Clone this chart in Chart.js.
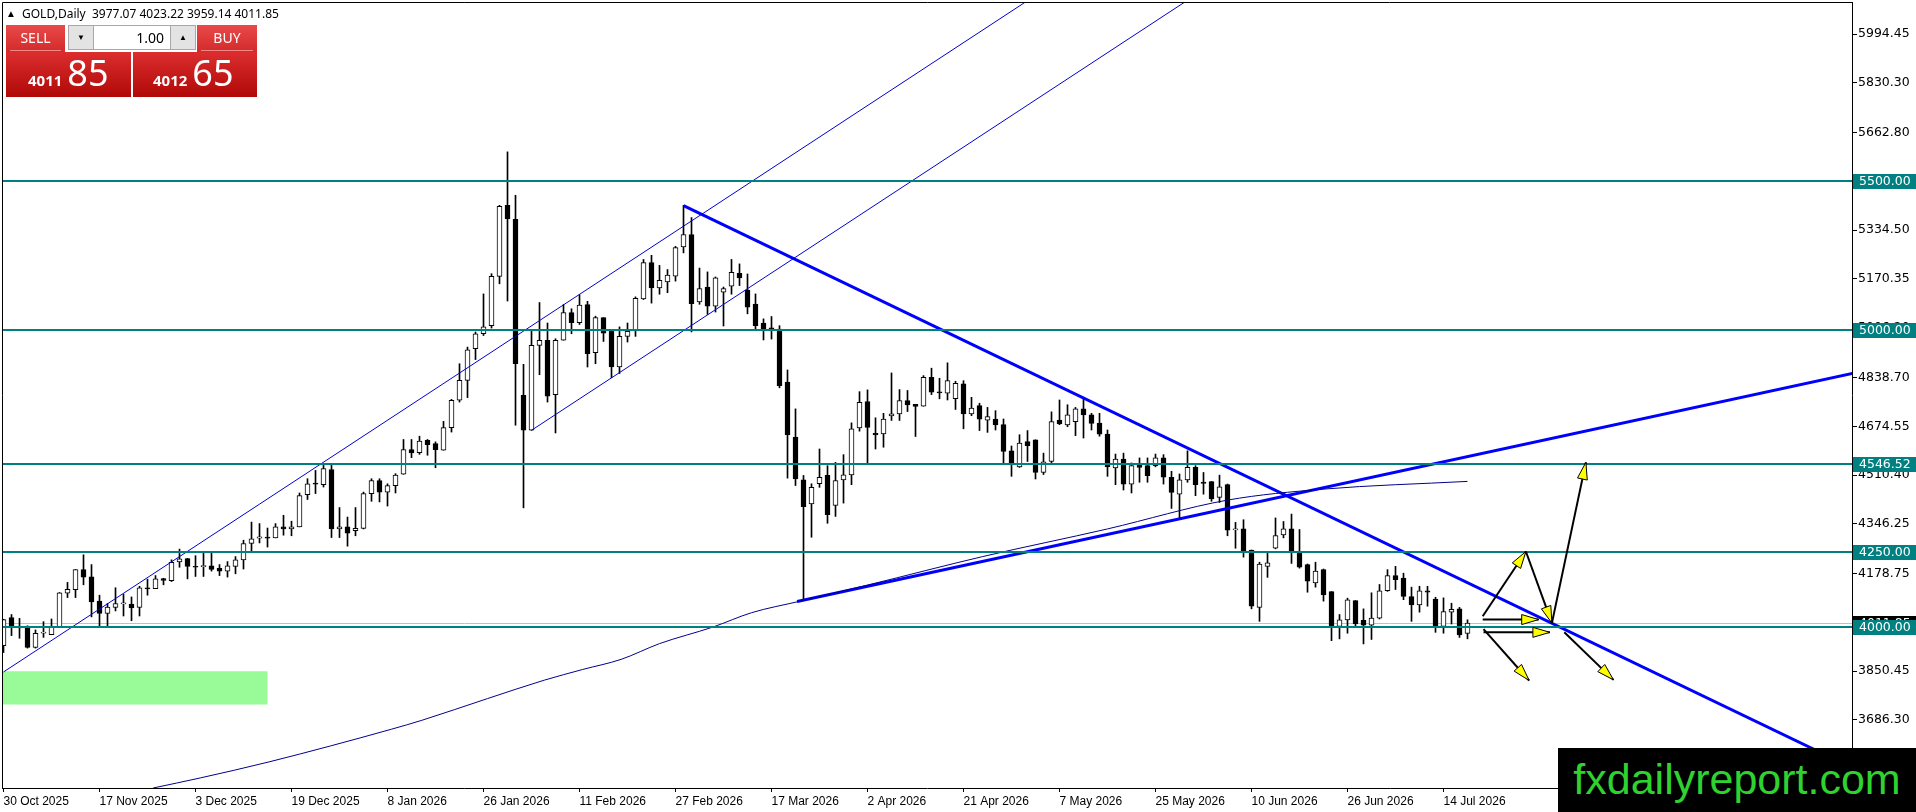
<!DOCTYPE html>
<html lang="en">
<head>
<meta charset="UTF-8">
<title>GOLD,Daily</title>
<script src="https://cdn.jsdelivr.net/npm/chart.js@4.4.1/dist/chart.umd.min.js"></script>
<style>
  body { margin: 0; background: #fff; overflow: hidden; }
  #wrap { position: relative; width: 1916px; height: 812px; }
  #chart { position: absolute; left: 0; top: 0; }
  #hdr { position: absolute; left: 6px; top: 5px; font: 12px 'Noto Sans'; line-height: 16px; color: #000; white-space: pre; }
  #hdr .tri { display: inline-block; width: 16px; font-size: 10px; vertical-align: 1px; }
  .red { position: absolute; }
  .top { top: 25px; height: 27px; background: linear-gradient(#e84a4a, #d42a2a); color: #fff; font: 14px 'Noto Sans'; text-align: center; line-height: 25px; }
  .top .sep { position: absolute; left: 4px; right: 4px; bottom: 1px; height: 1px; background: #f08a8a; }
  #sell { left: 6px; width: 59px; }
  #buy { left: 197px; width: 60px; }
  .big { top: 52px; height: 45px; background: linear-gradient(#dc2e2e, #b00808); color: #fff; }
  #bl { left: 6px; width: 125px; }
  #br { left: 133px; width: 124px; }
  .px { position: absolute; top: 3px; display: flex; align-items: baseline; line-height: 36px; font-family: 'Noto Sans'; }
  .px b { font-size: 15px; margin-right: 5px; }
  .px span { font-size: 36px; }
  #lot { position: absolute; left: 68px; top: 25px; width: 126px; height: 23px; border: 1px solid #a8a8a8; background: #fff; display: flex; }
  #lot .btn { width: 24px; background: #e3e3e3; font-size: 8px; text-align: center; line-height: 23px; color: #000; }
  #lot .val { flex: 1; text-align: right; padding-right: 6px; font: 14px 'Noto Sans'; line-height: 23px; border-left: 1px solid #a8a8a8; border-right: 1px solid #a8a8a8; }
  #wm { position: absolute; left: 1558px; top: 748px; width: 358px; height: 64px; background: #000; color: #2fd22f; font: 43px 'Liberation Sans'; text-align: center; line-height: 62px; }
</style>
</head>
<body>
<div id="wrap">
  <canvas id="chart" width="1916" height="812"></canvas>
  <div id="hdr"></div>
  <div class="red top" id="sell">SELL<div class="sep"></div></div>
  <div id="lot"><div class="btn">&#9660;</div><div class="val">1.00</div><div class="btn">&#9650;</div></div>
  <div class="red top" id="buy">BUY<div class="sep"></div></div>
  <div class="red big" id="bl"><div class="px" style="left:22px"><b>4011</b><span>85</span></div></div>
  <div class="red big" id="br"><div class="px" style="left:20px"><b>4012</b><span>65</span></div></div>
  <div id="wm">fxdailyreport.com</div>
</div>
<script>
// daily candles, bar 0 = 30 Oct 2025 ... bar 183 = last bar
const opens = [3936,4031,4001,3997,3930,3978,3973,4000,4113,4125,
  4192,4168,4086,4045,4065,4077,4076,4065,4131,4128,
  4162,4155,4218,4229,4201,4202,4205,4196,4187,4203,
  4225,4280,4298,4301,4299,4336,4329,4336,4444,4483,
  4478,4529,4329,4336,4323,4331,4448,4492,4453,4475,
  4513,4596,4586,4627,4616,4594,4670,4762,4829,4936,
  4986,5013,5179,5418,5371,4779,4661,4947,4964,4781,
  4964,5057,5023,5084,4922,5040,4994,4874,4977,4997,
  5103,5225,5140,5160,5180,5278,5320,5093,5143,5079,
  5126,5146,5189,5133,5086,5022,5006,5002,4823,4638,
  4494,4413,4481,4509,4408,4494,4511,4669,4758,4651,
  4649,4709,4716,4761,4748,4742,4839,4788,4786,4767,
  4817,4716,4744,4695,4699,4680,4592,4538,4623,4629,
  4519,4556,4695,4679,4690,4733,4713,4685,4648,4534,
  4564,4480,4543,4542,4542,4568,4503,4446,4494,4536,
  4487,4488,4435,4478,4326,4329,4258,4065,4203,4264,
  4309,4329,4254,4209,4147,4192,4118,4001,4023,4088,
  4021,4005,4029,4121,4172,4164,4101,4073,4121,4093,
  4001,4049,4060,3977.07];
const highs = [4025,4041,4028,4003,3989,4017,4026,4115,4149,4192,
  4242,4209,4106,4078,4131,4109,4100,4136,4160,4172,
  4163,4225,4261,4230,4239,4253,4253,4209,4219,4236,
  4291,4352,4347,4332,4347,4375,4355,4450,4498,4526,
  4549,4543,4401,4369,4401,4453,4498,4498,4481,4515,
  4630,4630,4641,4630,4622,4691,4765,4885,4941,4992,
  5120,5188,5418,5598,5452,4883,4995,5091,5022,4969,
  5084,5070,5117,5095,5045,5040,4997,5009,5022,5110,
  5236,5250,5216,5202,5280,5418,5377,5207,5194,5177,
  5143,5236,5221,5187,5120,5036,5044,5013,4864,4733,
  4509,4481,4598,4542,4553,4579,4686,4791,4797,4703,
  4718,4854,4798,4795,4748,4845,4870,4836,4888,4826,
  4828,4772,4752,4738,4727,4699,4608,4646,4660,4629,
  4584,4723,4763,4747,4738,4766,4718,4718,4662,4581,
  4584,4551,4568,4568,4581,4579,4523,4514,4592,4542,
  4519,4489,4510,4480,4351,4360,4258,4217,4247,4366,
  4354,4379,4327,4211,4217,4194,4118,4041,4096,4088,
  4060,4114,4142,4192,4203,4180,4133,4136,4136,4099,
  4097,4079,4065,4023.22];
const lows = [3913,3970,3961,3928,3928,3964,3973,3999,4098,4098,
  4141,4033,4002,4002,4053,4036,4020,4036,4106,4128,
  4141,4152,4200,4161,4169,4169,4187,4172,4167,4178,
  4194,4255,4282,4268,4299,4308,4306,4336,4428,4448,
  4470,4300,4300,4271,4306,4329,4422,4420,4406,4450,
  4513,4569,4580,4577,4535,4594,4655,4756,4771,4899,
  4980,5005,5154,5096,4678,4400,4661,4848,4756,4652,
  4964,4986,5017,4874,4885,4960,4838,4852,4958,4977,
  5101,5089,5119,5124,5163,5258,4992,5085,5051,5059,
  5012,5119,5148,5053,5002,4965,4968,4804,4500,4475,
  4094,4301,4469,4348,4371,4416,4478,4658,4548,4598,
  4604,4694,4694,4724,4640,4742,4781,4767,4763,4731,
  4666,4710,4660,4654,4662,4550,4506,4536,4556,4497,
  4512,4551,4680,4673,4643,4635,4662,4641,4506,4478,
  4460,4450,4486,4486,4538,4480,4398,4362,4486,4441,
  4446,4422,4418,4306,4264,4234,4060,4018,4166,4262,
  4299,4213,4197,4116,4133,4086,3953,3959,3978,3998,
  3942,3957,4026,4119,4125,4091,4018,4049,4069,3981,
  3978,4009,3964,3959.14];
const closes = [4024,4003,3996,3930,3978,3982,3998,4114,4126,4192,
  4167,4083,4045,4066,4078,4078,4063,4131,4127,4161,
  4156,4217,4228,4203,4200,4204,4193,4187,4205,4225,
  4280,4296,4302,4298,4336,4329,4336,4441,4481,4480,
  4532,4329,4336,4315,4331,4448,4492,4453,4475,4510,
  4596,4585,4625,4613,4596,4670,4762,4829,4932,4986,
  5009,5179,5415,5372,4885,4661,4947,4964,4776,4964,
  5057,5023,5082,4919,5040,4988,4874,4977,4994,5105,
  5225,5140,5166,5183,5276,5320,5087,5138,5079,5174,
  5138,5193,5174,5075,5013,5002,5000,4811,4645,4497,
  4404,4469,4503,4377,4492,4511,4666,4755,4671,4645,
  4699,4716,4761,4746,4741,4839,4789,4787,4828,4819,
  4716,4736,4698,4707,4679,4590,4550,4618,4609,4519,
  4555,4690,4682,4713,4733,4713,4684,4648,4538,4564,
  4480,4542,4536,4508,4568,4503,4452,4494,4536,4478,
  4482,4430,4471,4325,4329,4256,4069,4211,4215,4307,
  4329,4254,4200,4153,4187,4107,4001,4023,4090,4009,
  4005,4029,4121,4172,4158,4102,4073,4121,4116,4001,
  4051,4058,3972,4011.85];

// moving average, read as [bar, price]
const maPoints = [[18.7,3457],[24.6,3491],[33.2,3545],[48.5,3655],[52.3,3685],[60.5,3758],
  [67.6,3820],[72.4,3856],[77.2,3890],[82,3943],[88.7,3999],[93.5,4047],[99.6,4086],
  [108,4140],[122.4,4236],[138,4329],[153,4426],[165,4463],[183,4489]];

// hand drawn objects, [bar, price]
const channelUpper = [[0,3847.6],[140,6318.6]];
const channelLower = [[66,4661],[150,6143.6]];
const downTrend = [[85,5417],[235,3474.5]];
const upTrend = [[99.2,4085],[235,4875]];
const levels = [5500, 5000, 4546.52, 4250, 4000];
const greenZone = [-1, 33, 3738, 3850];   // bar from, bar to, price low, price high
const arrowSegs = [[184.9,4035,190.3,4253],[190.3,4253,193.55,4012],[193.55,4012,197.8,4553],
  [184.9,4024,191.9,4024],[185,3981,193.3,3981],[185,3992,190.7,3819],[195.1,3981,201.25,3821]];

const xTickBars = [0,12,24,36,48,60,72,84,96,108,120,132,144,156,168,180];
const xTickLabels = ['30 Oct 2025','17 Nov 2025','3 Dec 2025','19 Dec 2025','8 Jan 2026','26 Jan 2026',
  '11 Feb 2026','27 Feb 2026','17 Mar 2026','2 Apr 2026','21 Apr 2026','7 May 2026','25 May 2026',
  '10 Jun 2026','26 Jun 2026','14 Jul 2026'];
const yTicks = [5994.45,5830.30,5662.80,5498.65,5334.50,5170.35,5006.20,4838.70,4674.55,4510.40,
  4346.25,4178.75,4014.60,3850.45,3686.30];

const last = closes.length - 1;
const lastPrice = closes[last];
document.getElementById('hdr').innerHTML = '<span class="tri">&#9650;</span>GOLD,Daily  ' +
  [opens[last], highs[last], lows[last], closes[last]].map(v => v.toFixed(2)).join(' ');

const pts = a => a.map(p => ({x: p[0], y: p[1]}));
const wickData = highs.map((h, i) => ({x: i, y: [lows[i], h]}));
const bodyData = opens.map((o, i) => ({x: i, y: [o, closes[i]]}));
const bodyColors = opens.map((o, i) => closes[i] >= o ? '#ffffff' : '#000000');

const axisFont = '12.5px "DejaVu Sans"';

function drawArrow(ctx, x1, y1, x2, y2) {
  ctx.strokeStyle = '#000';
  ctx.lineWidth = 2;
  ctx.beginPath(); ctx.moveTo(x1, y1); ctx.lineTo(x2, y2); ctx.stroke();
  const a = Math.atan2(y2 - y1, x2 - x1), L = 17, W = 5;
  const bx = x2 - L * Math.cos(a), by = y2 - L * Math.sin(a);
  ctx.beginPath();
  ctx.moveTo(x2, y2);
  ctx.lineTo(bx - W * Math.sin(a), by + W * Math.cos(a));
  ctx.lineTo(bx + W * Math.sin(a), by - W * Math.cos(a));
  ctx.closePath();
  ctx.fillStyle = '#ffff00';
  ctx.fill();
  ctx.lineWidth = 1;
  ctx.stroke();
}

function axisLabel(ctx, y, text, bg) {
  const yy = Math.round(y);
  ctx.fillStyle = bg;
  ctx.fillRect(1853, yy - 7, 63, 15);
  ctx.fillStyle = '#fff';
  ctx.font = axisFont;
  ctx.textBaseline = 'middle';
  ctx.textAlign = 'left';
  ctx.fillText(text, 1859, yy + 0.5);
}

const mt4 = {
  id: 'mt4',
  beforeDatasetsDraw(chart) {
    const {ctx, chartArea: a, scales: {x, y}} = chart;
    ctx.save();
    ctx.fillStyle = '#98fb98';
    const gx1 = Math.max(a.left, x.getPixelForValue(greenZone[0]));
    const gx2 = x.getPixelForValue(greenZone[1]);
    const gy1 = y.getPixelForValue(greenZone[3]), gy2 = y.getPixelForValue(greenZone[2]);
    ctx.fillRect(gx1, gy1, gx2 - gx1, gy2 - gy1);
    // current price line
    const py = Math.round(y.getPixelForValue(lastPrice)) + 0.5;
    ctx.strokeStyle = '#c0c0c0'; ctx.lineWidth = 1;
    ctx.beginPath(); ctx.moveTo(a.left, py); ctx.lineTo(a.right, py); ctx.stroke();
    ctx.restore();
  },
  afterDatasetsDraw(chart) {
    const {ctx, chartArea: a, scales: {x, y}} = chart;
    ctx.save();
    ctx.strokeStyle = '#008080'; ctx.lineWidth = 2;
    levels.forEach(v => {
      const ly = Math.round(y.getPixelForValue(v));
      ctx.beginPath(); ctx.moveTo(a.left, ly); ctx.lineTo(a.right, ly); ctx.stroke();
    });
    arrowSegs.forEach(s => drawArrow(ctx, x.getPixelForValue(s[0]), y.getPixelForValue(s[1]),
      x.getPixelForValue(s[2]), y.getPixelForValue(s[3])));
    ctx.restore();
  },
  afterDraw(chart) {
    const {ctx, chartArea: a, scales: {y}} = chart;
    ctx.save();
    ctx.strokeStyle = '#000'; ctx.lineWidth = 1;
    ctx.beginPath();
    ctx.moveTo(a.left + 0.5, a.bottom); ctx.lineTo(a.left + 0.5, a.top + 0.5); ctx.lineTo(a.right, a.top + 0.5);
    ctx.stroke();
    axisLabel(ctx, y.getPixelForValue(lastPrice), lastPrice.toFixed(2), '#000');
    levels.forEach(v => axisLabel(ctx, y.getPixelForValue(v), v.toFixed(2), '#008080'));
    ctx.restore();
  }
};

const lineDs = (data, color, width) => ({type: 'line', data: data, borderColor: color, borderWidth: width,
  pointRadius: 0, fill: false, order: -1, clip: 0});

// keep the plot box fixed, no extra room for edge labels
const noPad = s => { s.paddingTop = 0; s.paddingBottom = 0; s.paddingLeft = 0; s.paddingRight = 0; };

new Chart(document.getElementById('chart'), {
  type: 'bar',
  data: {
    datasets: [
      Object.assign(lineDs(pts(maPoints), '#00008b', 1), {cubicInterpolationMode: 'monotone'}),
      lineDs(pts(channelUpper), '#0000cd', 1),
      lineDs(pts(channelLower), '#0000cd', 1),
      lineDs(pts(downTrend), '#0000ff', 3),
      lineDs(pts(upTrend), '#0000ff', 3),
      {data: bodyData, backgroundColor: bodyColors, borderColor: '#000', borderWidth: 1, borderSkipped: false,
        barThickness: 5, maxBarThickness: 5, grouped: false, minBarLength: 1, order: 1, clip: 0},
      {data: wickData, backgroundColor: '#000', borderWidth: 0, barThickness: 1, maxBarThickness: 1,
        grouped: false, order: 2, clip: 0}
    ]
  },
  options: {
    responsive: false,
    animation: false,
    layout: {padding: {left: 2, top: 2, right: 0, bottom: 0}},
    plugins: {legend: {display: false}, tooltip: {enabled: false}},
    scales: {
      x: {
        type: 'linear', offset: false, min: -0.1875, max: 231.0625,
        afterBuildTicks: s => { s.ticks = xTickBars.map(v => ({value: v})); },
        afterFit: s => { s.height = 24; noPad(s); },
        grid: {display: true, offset: false, drawOnChartArea: false, drawTicks: true, tickLength: 4, color: '#000'},
        border: {display: true, color: '#000', width: 1},
        ticks: {align: 'start', autoSkip: false, maxRotation: 0, padding: 2, color: '#000',
          font: {family: 'Liberation Sans', size: 12}, callback: (v, i) => xTickLabels[i]}
      },
      y: {
        type: 'linear', position: 'right', min: 3457.1, max: 6102.4, beginAtZero: false,
        afterBuildTicks: s => { s.ticks = yTicks.map(v => ({value: v})); },
        afterFit: s => { s.width = 64; noPad(s); },
        grid: {display: true, drawOnChartArea: false, drawTicks: true, tickLength: 5, color: '#000'},
        border: {display: true, color: '#000', width: 1},
        ticks: {autoSkip: false, padding: 1, color: '#000', font: {family: 'DejaVu Sans', size: 12.5},
          callback: v => Number(v).toFixed(2)}
      }
    }
  },
  plugins: [mt4]
});
</script>
</body>
</html>
